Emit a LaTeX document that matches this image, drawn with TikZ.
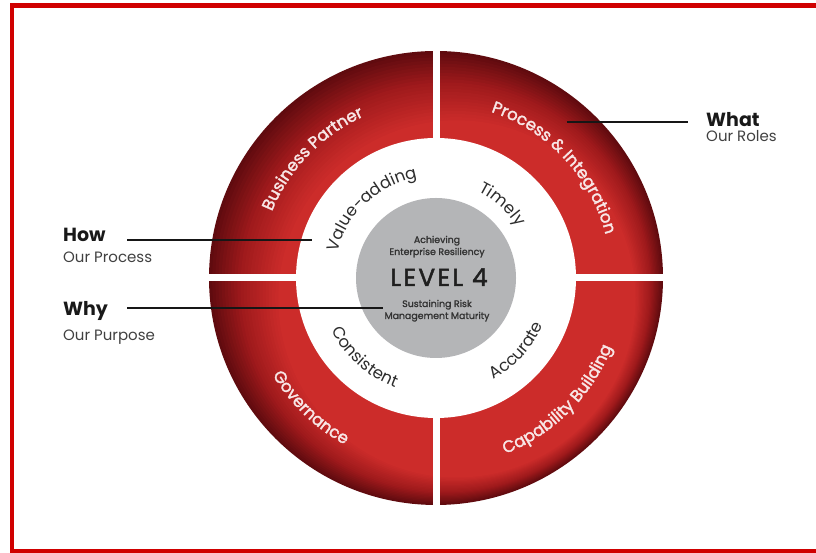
\documentclass[tikz,border=0pt]{standalone}
\usepackage{fontspec}
\setmainfont{Poppins}
\newfontfamily\levelfont{Poppins}[LetterSpace=10,FakeBold=2]
\newfontfamily\medfont{Poppins}[FakeBold=2]
\newfontfamily\semifont{Poppins}[FakeBold=1.6]
\usetikzlibrary{decorations.text}
\definecolor{framered}{RGB}{208,0,0}
\definecolor{rl}{RGB}{204,44,42}
\definecolor{rm}{RGB}{160,26,28}
\definecolor{rd}{RGB}{96,11,15}
\definecolor{discgray}{RGB}{180,181,183}
\definecolor{ringtxt}{RGB}{248,230,230}
\definecolor{wordtxt}{RGB}{45,45,45}
\definecolor{linecol}{RGB}{22,22,22}
\newcommand\ringfont{\medfont\fontsize{16.5}{18}\selectfont}
\newcommand\wordfont{\fontsize{16.5}{18}\selectfont}
\tikzset{
  ringlabel/.style={decorate, decoration={text along path, text align=center, text={|\color{ringtxt}\ringfont|#1}}},
  wordlabel/.style={decorate, decoration={text along path, text align=center, text={|\color{wordtxt}\wordfont|#1}}},
  headlabel/.style={anchor=base west, inner sep=0pt, font=\fontsize{19}{21}\selectfont\bfseries, text=black!90},
  sublabel/.style={anchor=base west, inner sep=0pt, font=\fontsize{15}{17}\selectfont, text=black!75},
  disctext/.style={anchor=base, inner sep=0pt, font=\semifont\fontsize{9.4}{10}\selectfont, text=black!80},
  pointer/.style={draw=linecol, line width=2pt}
}
\begin{document}
\begin{tikzpicture}[x=1pt,y=1pt]
\useasboundingbox (0,0) rectangle (816,553);
% frame
\draw[framered, line width=4.5pt] (830,547.3) -- (12,547.3) -- (12,1.5) -- (830,1.5);
% wheel
\coordinate (c) at (436,275);
\foreach \k in {0,...,40} {
  \pgfmathsetmacro\rr{227-2.2*\k}
  \pgfmathsetmacro\dd{0.95*\k}
  \pgfmathtruncatemacro\pa{min(100,\k*10)}
  \pgfmathtruncatemacro\pb{max(0,min(100,(\k-10)*100/12))}
  \fill[rl!\pb!rm!\pa!rd] (c) ++(\dd,-\dd) circle[radius=\rr pt];
}
\draw[white, line width=7pt] (c) ++(0,235) -- ++(0,-470);
\draw[white, line width=7pt] (c) ++(-235,0) -- ++(470,0);
\fill[white] (c) circle[radius=140pt];
\fill[discgray] (c) circle[radius=80pt];
% ring labels
\path[ringlabel={Business Partner}] (c) ++(171:177pt) arc[start angle=171, end angle=101, radius=177pt];
\path[ringlabel={Process {\&} Integration}] (c) ++(83:175pt) arc[start angle=83, end angle=3, radius=175pt];
\path[ringlabel={Capability Building}] (c) ++(-85:189pt) arc[start angle=-85, end angle=-5, radius=189pt];
\path[ringlabel={Governance}] (c) ++(186:190pt) arc[start angle=186, end angle=266, radius=190pt];
% inner words
\path[wordlabel={Value-adding}] (c) ++(173:102pt) arc[start angle=173, end angle=93, radius=102pt];
\path[wordlabel={Timely}] (c) ++(88:96pt) arc[start angle=88, end angle=8, radius=96pt];
\path[wordlabel={Accurate}] (c) ++(-82:117pt) arc[start angle=-82, end angle=-2, radius=117pt];
\path[wordlabel={Consistent}] (c) ++(188:117pt) arc[start angle=188, end angle=268, radius=117pt];
% disc text
\node[disctext] (ach) at (437,310) {Achieving};
\node[disctext] (ent) at (437,298) {Enterprise Resiliency};
\node[anchor=base, inner sep=0pt, font=\levelfont\fontsize{24.5}{26}\selectfont, text=black!88] (lvl) at (439,267) {LEVEL 4};
\node[disctext] (sus) at (437,246) {Sustaining Risk};
\node[disctext] (man) at (437,234) {Management Maturity};
% side labels
\node[headlabel] (what) at (706,426) {What};
\node[sublabel] (roles) at (706,411) {Our Roles};
\node[headlabel] (how) at (63,311) {How};
\node[sublabel] (proc) at (63,290) {Our Process};
\node[headlabel] (why) at (63,237) {Why};
\node[sublabel] (purp) at (63,212) {Our Purpose};
% pointers
\coordinate (whatA) at (567,431);
\coordinate (whatB) at (688,431);
\coordinate (howA) at (127,313);
\coordinate (howB) at (312,313);
\coordinate (whyA) at (127,245);
\coordinate (whyB) at (383,245);
\draw[pointer] (whatA) -- (whatB);
\draw[pointer] (howA) -- (howB);
\draw[pointer] (whyA) -- (whyB);
\end{tikzpicture}
\end{document}
